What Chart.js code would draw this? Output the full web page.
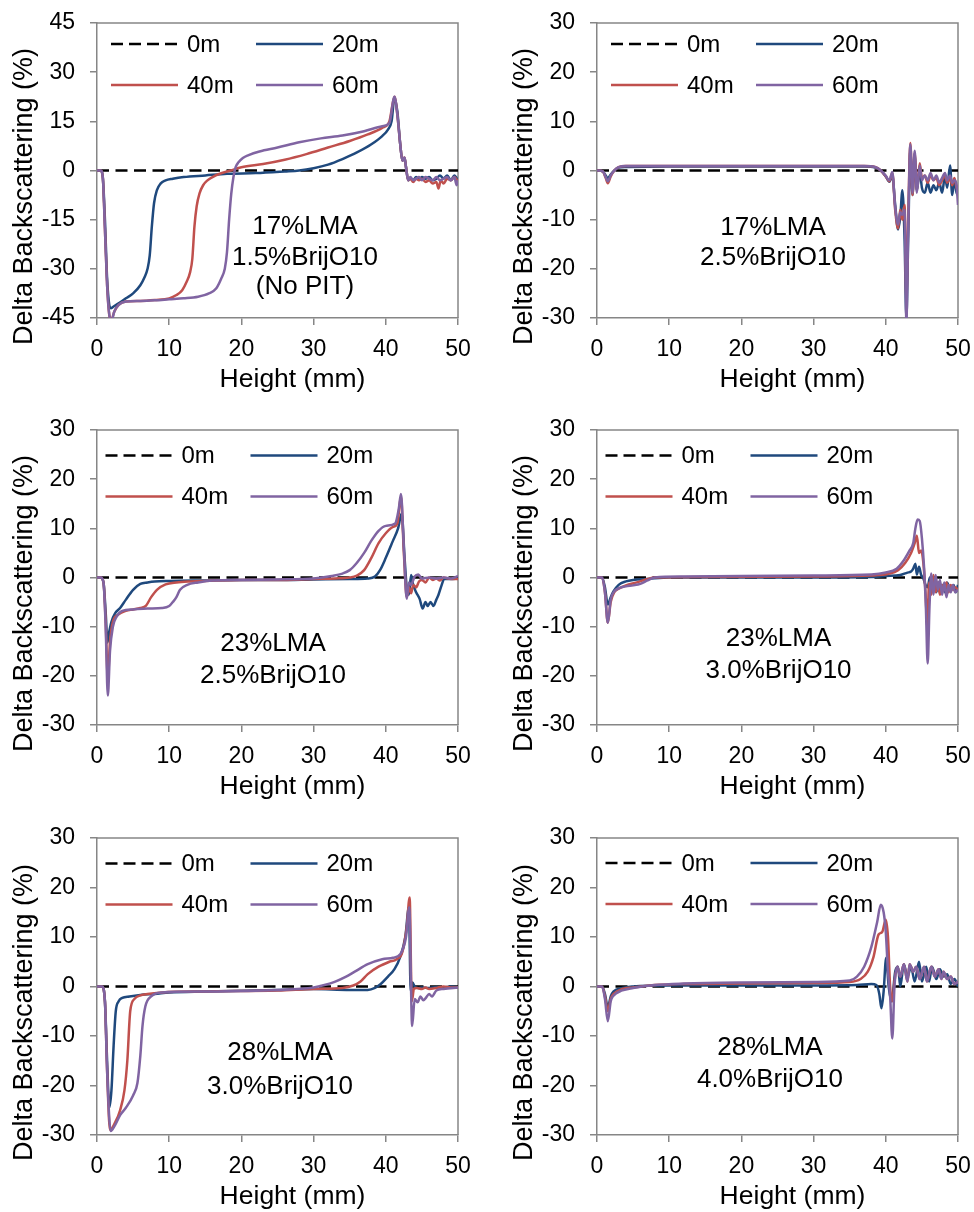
<!DOCTYPE html>
<html>
<head>
<meta charset="utf-8">
<script src="https://cdn.jsdelivr.net/npm/chart.js@4.4.1/dist/chart.umd.min.js"></script>
<style>
html, body { margin: 0; padding: 0; background: #fff; }
#wrap { position: relative; width: 974px; height: 1212px; }
canvas { position: absolute; }
</style>
</head>
<body>
<div id="wrap">
<canvas id="pa" width="487" height="397" style="left:0;top:0"></canvas>
<canvas id="pb" width="487" height="397" style="left:487px;top:0"></canvas>
<canvas id="pc" width="487" height="397" style="left:0;top:407px"></canvas>
<canvas id="pd" width="487" height="397" style="left:487px;top:407px"></canvas>
<canvas id="pe" width="487" height="397" style="left:0;top:815px"></canvas>
<canvas id="pf" width="487" height="397" style="left:487px;top:815px"></canvas>
</div>
<script>
// series names / colours
const seriesNames = ["0m", "20m", "40m", "60m"];
const seriesColors = ["#000000", "#1f497d", "#c0504d", "#8064a2"];
const baseX = [0, 50];
const baseY = [0, 0];

// 17%LMA 1.5%BrijO10
const a20x = [0, 0.5, 0.8, 1.1, 1.4, 1.7, 1.9, 2.3, 3, 4, 5, 6, 6.6, 7, 7.3, 7.6, 7.9, 8.3, 8.8, 9.5, 10.5, 12, 15, 18, 22, 26, 28, 30, 32, 34, 36, 38, 39.5, 40.3, 40.8, 41.2, 41.6, 42, 42.3, 42.6, 42.8, 43.1, 43.4, 43.8, 44.2, 44.6, 45, 45.5, 46, 46.5, 47, 47.5, 48, 48.5, 49, 49.5, 50];
const a20y = [0, 0, -2, -15, -33, -41, -42, -41.5, -40.5, -39, -37.5, -35, -32.5, -30, -26, -17, -10, -6, -4, -3, -2.5, -2, -1.5, -1, -0.8, -0.3, 0, 0.7, 1.8, 3.5, 5.5, 8, 10.5, 12.5, 15, 22, 18, 8, 3, 3.8, 1, -3, -2.5, -3, -2, -2.8, -2, -2.5, -2, -3, -2.5, -1.5, -2.5, -1.5, -3, -1.5, -3];
const a40x = [0, 0.5, 0.8, 1.1, 1.4, 1.7, 2, 2.4, 3, 4, 6, 8, 10, 11, 11.8, 12.4, 12.9, 13.2, 13.5, 13.8, 14.2, 14.7, 15.3, 16, 17, 18.5, 20, 23, 26, 29, 32, 35, 37.5, 39.5, 40.5, 41.2, 41.6, 42, 42.3, 42.6, 42.8, 43.1, 43.4, 43.8, 44.2, 44.6, 45, 45.5, 46, 46.5, 47, 47.3, 47.6, 48, 48.5, 49, 49.5, 50];
const a40y = [0, 0, -2, -18, -35, -44, -45.5, -43, -41, -40, -39.8, -39.5, -39, -38, -36.5, -34, -31, -27, -17, -11, -7, -4.5, -3, -2, -1, 0, 1, 2, 3.3, 5, 7, 9, 11, 13, 15, 22.5, 17, 8, 3, 4, 1, -3, -2.5, -3.5, -2.5, -3, -2.5, -3.5, -3, -4, -3.5, -5.5, -3, -4, -2.5, -3, -2, -3.5];
const a60x = [0, 0.5, 0.8, 1.1, 1.4, 1.7, 2, 2.4, 3, 4, 6, 8, 10, 12, 14, 15.5, 16.5, 17.2, 17.7, 18, 18.3, 18.6, 18.9, 19.2, 19.6, 20.2, 21, 22.5, 25, 28, 31, 34, 37, 39.5, 40.5, 41.2, 41.6, 42, 42.3, 42.6, 42.8, 43.1, 43.4, 43.8, 44.2, 44.6, 45, 45.5, 46, 46.5, 47, 47.5, 48, 48.5, 49, 49.5, 49.8, 50];
const a60y = [0, 0, -2, -18, -35, -44, -45.8, -43, -41, -40, -39.8, -39.6, -39.3, -39, -38.5, -37.5, -36, -33, -30, -25, -15, -7, -2, 1, 2.5, 3.8, 4.7, 5.8, 7, 8.6, 9.8, 10.7, 12, 13.5, 14.5, 22.5, 17, 8, 3, 4, 1, -3, -2, -3, -2.5, -2, -3, -2, -2.5, -3, -2, -3, -2.5, -2, -3, -2, -4.5, -3];

// 17%LMA 2.5%BrijO10
const b20x = [0, 0.8, 1.2, 1.5, 1.9, 2.4, 3, 4, 10, 20, 30, 37, 38.5, 39.3, 40, 40.5, 40.9, 41.3, 41.7, 42, 42.3, 42.6, 42.85, 43.1, 43.4, 43.7, 44, 44.3, 44.7, 45, 45.4, 45.8, 46.2, 46.6, 47, 47.4, 47.8, 48.2, 48.5, 48.9, 49.2, 49.5, 49.8, 50];
const b20y = [0, -0.2, -1, -1.6, -0.8, 0, 0.6, 0.7, 0.8, 0.8, 0.8, 0.8, 0.6, 0, -1.2, -2.3, -1, -7, -12, -9.5, -4, -14, -30, -14, 4, -5, 3, -4, 0, -3.5, -4.5, -2.5, -4.5, -3, -4, -2.5, -4.5, -1, -3.5, 1, -5, -2, -4.5, -5];
const b40x = b20x;
const b40y = [0, -0.2, -1.5, -2.6, -1.2, 0, 0.7, 0.9, 0.9, 0.9, 0.9, 0.9, 0.7, 0, -1.2, -2.2, -0.5, -8, -11.8, -8, -10, -7, -26, -10, 5.6, -5, 3.5, -4, 1.5, -1.5, -1, -2.5, -1, -2, -1.5, -3, -2, -1, -2.5, -1.5, -3, -1.5, -3.5, -4];
const b60x = b20x;
const b60y = [0, -0.2, -1.3, -2.2, -1, 0, 0.7, 0.9, 0.9, 0.9, 0.9, 0.9, 0.7, 0, -1.1, -2, -0.3, -7.5, -11, -8.5, -9, -8, -30.5, -12, 5.3, -4.5, 4, -4.5, 1, -2, -1, -2, -0.5, -2, -1, -2.5, -1.5, -0.5, -2, -1, -2.5, -2, -3, -7];

// 23%LMA 2.5%BrijO10
const c20x = [0, 0.5, 0.9, 1.2, 1.45, 1.7, 2, 2.5, 3.2, 4, 5, 6, 7, 8, 10, 15, 20, 25, 30, 35, 37.5, 38.5, 39.2, 40, 41, 41.7, 42.2, 42.6, 42.9, 43.2, 43.5, 43.8, 44.2, 44.7, 45.1, 45.5, 45.8, 46.2, 46.6, 47, 47.3, 47.7, 48.1, 49, 50];
const c20y = [0, 0, -1, -7, -13.2, -11, -9, -7.3, -6.2, -4.5, -2.5, -1.3, -1, -0.8, -0.7, -0.6, -0.5, -0.5, -0.4, -0.3, -0.2, 0.2, 1.5, 4, 7.5, 10, 13, 4, -2, -3.5, 0.5, -1.5, -3, -4.4, -6.3, -5, -5.8, -5, -5.8, -4.5, -3.5, -1.7, -0.3, -0.3, -0.2];
const c40x = [0, 0.5, 0.9, 1.2, 1.5, 1.8, 2.2, 3, 4, 5, 6, 6.8, 7.5, 8.3, 9.5, 11, 13, 15, 20, 25, 30, 33, 35, 36, 37, 38, 39, 40, 41, 41.6, 42.1, 42.5, 42.9, 43.2, 43.5, 43.8, 44.2, 44.6, 45, 45.5, 46, 46.5, 47, 47.5, 48, 49, 50];
const c40y = [0, 0, -1, -9, -20.5, -13, -9, -7.5, -6.8, -6.5, -6.2, -5.7, -4, -2.5, -1.4, -1, -0.8, -0.7, -0.5, -0.5, -0.3, -0.2, 0, 0.4, 1.5, 4, 7, 9, 10.3, 11, 16.5, 5, -4, -2, -3.2, -1.5, -2, -0.8, -0.5, -1, 0, -0.5, -0.2, -0.6, 0, -0.3, -0.3];
const c60x = [0, 0.5, 0.9, 1.2, 1.5, 1.8, 2.2, 2.7, 3.5, 5, 7, 9, 10, 10.5, 11, 11.5, 12.5, 14, 16, 20, 25, 30, 32.5, 34, 35, 36, 37, 38, 39, 40, 41.3, 41.8, 42.1, 42.5, 42.9, 43.2, 43.5, 44, 44.5, 45, 46, 47, 48, 49, 50];
const c60y = [0, 0, -1, -10, -24, -15, -10, -8, -6.8, -6.5, -6.3, -6.2, -5.8, -5, -4, -2.5, -1.5, -1, -0.6, -0.5, -0.4, -0.2, 0.3, 0.8, 1.5, 3, 5, 7.5, 9.5, 10.5, 11, 14, 17, 6, -4.3, -1, -1.5, 0.2, 0.6, -0.2, 0, -0.2, 0, -0.2, 0.3];

// 23%LMA 3.0%BrijO10
const d20x = [0, 0.7, 1.1, 1.5, 1.9, 2.3, 3, 4, 5, 7, 10, 20, 30, 38, 40, 42, 43, 43.5, 43.8, 44.1, 44.3, 44.6, 44.9, 45.2, 45.5, 45.8, 46.1, 46.4, 46.7, 47, 47.3, 47.6, 47.9, 48.2, 48.5, 48.8, 49.1, 49.4, 49.7, 50];
const d20y = [0, 0, -2, -5.5, -4, -2.8, -1.5, -0.8, -0.5, -0.3, 0, 0, 0, 0.1, 0.3, 0.5, 1, 1.2, 1.8, 2.8, 0.6, 2.2, 0.5, -0.2, -1.5, -2, 0, -2.5, -1, -3, -1, -2.5, -1.5, -3, -1, -2, -2.5, -1.5, -3, -1.5];
const d40x = [0, 0.7, 1.1, 1.5, 1.9, 2.4, 3, 4, 5.5, 7, 8, 15, 30, 38, 40.5, 41.7, 42.7, 43.5, 44, 44.3, 44.6, 44.9, 45.2, 45.5, 45.75, 46, 46.3, 46.6, 46.9, 47.2, 47.5, 47.8, 48.1, 48.4, 48.7, 49, 49.3, 49.6, 50];
const d40y = [0, 0, -3, -9.2, -5, -3, -2.3, -1.6, -1, -0.3, 0, 0.1, 0.2, 0.4, 0.8, 1.5, 3, 5, 7, 8.5, 5, 5.5, 3, -3, -10, -1, -3.5, 0.5, -3, -1, -3.5, -1.5, -2.5, -1, -3, -1.5, -2.5, -2, -2.5];
const d60x = [0, 0.7, 1.1, 1.5, 1.9, 2.4, 3, 4, 5, 6, 7, 8, 12, 20, 30, 38, 40, 41.5, 42.5, 43.3, 43.8, 44.1, 44.4, 44.7, 45, 45.3, 45.55, 45.8, 46.05, 46.3, 46.6, 46.9, 47.2, 47.5, 47.8, 48.1, 48.4, 48.7, 49, 49.3, 49.6, 50];
const d60y = [0, 0, -3, -9.2, -4.5, -2.8, -2.2, -1.8, -1.6, -1.3, -0.6, 0, 0.2, 0.3, 0.4, 0.6, 1, 1.8, 3.5, 5.5, 7, 10, 11.8, 11.5, 8, 2, -6, -17.5, -6, 0.8, -3.5, 0.5, -2.5, -0.5, -3.5, -1, -4, -1.5, -3, -1.5, -3, -2.5];

// 28%LMA 3.0%BrijO10
const e20x = [0, 0.7, 1.1, 1.4, 1.7, 2, 2.3, 2.6, 3, 3.5, 4.5, 6, 8, 10, 15, 25, 30, 35, 37.5, 38.5, 39.3, 40.3, 41.2, 42, 42.7, 43.2, 43.45, 43.7, 44, 44.5, 45, 46, 47, 48, 49, 50];
const e20y = [0, 0, -3, -15, -24.5, -21, -12, -5, -3, -2.3, -2, -1.7, -1.5, -1.2, -1, -0.7, -0.5, -0.7, -0.7, -0.3, 0.5, 2, 3.5, 6, 10, 16, -1, 0.8, 0, -0.3, -0.2, -0.3, -0.1, -0.2, 0, -0.2];
const e40x = [0, 0.7, 1.1, 1.4, 1.8, 2.5, 3.2, 3.8, 4.2, 4.6, 5.2, 6, 7, 9, 15, 25, 30, 34, 35.5, 36.5, 37.5, 39, 40.5, 41.5, 42.3, 42.9, 43.3, 43.6, 43.9, 44.3, 45, 45.5, 46, 47, 48, 49, 50];
const e40y = [0, 0, -3, -17, -29, -27.5, -25, -21, -15, -5, -2.5, -1.8, -1.5, -1.2, -1, -0.8, -0.5, -0.3, 0.2, 1, 2.5, 4, 5, 5.5, 7, 12, 18, -3, -0.5, -0.3, -0.5, -0.2, -0.5, -0.3, 0, -0.2, -0.2];
const e60x = [0, 0.7, 1.1, 1.4, 1.9, 2.5, 3.2, 4, 5, 5.6, 6, 6.3, 6.7, 7.5, 9, 15, 25, 30, 31.5, 33, 34.5, 35.7, 37.5, 39.5, 41, 42, 42.8, 43.25, 43.65, 44, 44.4, 44.8, 45.2, 45.6, 46, 46.4, 47, 48, 50];
const e60y = [0, 0, -3, -17, -29.2, -28, -26, -24.5, -22, -19.5, -14, -8, -4, -2, -1.2, -1, -0.7, -0.2, 0.3, 1, 2, 3, 4.5, 5.5, 5.8, 6.5, 10, 16, -8, -2.5, -3.2, -2, -2.8, -2.2, -1.5, -2, -0.8, -0.5, -0.2];

// 28%LMA 4.0%BrijO10
const f20x = [0, 0.7, 1.1, 1.5, 1.9, 2.3, 3.5, 5, 10, 30, 36, 38, 38.7, 39.1, 39.4, 39.7, 40.05, 40.4, 40.8, 41.3, 41.7, 42, 42.5, 43, 43.5, 44, 44.6, 45, 45.6, 46, 46.4, 47, 47.5, 48, 48.5, 49, 49.5, 50];
const f20y = [0, 0, -1.5, -4.2, -2, -1, -0.3, 0, 0.2, 0.2, 0.3, 0.5, 0.3, -1.5, -4.4, -1, 5.8, 0, -3, 3, 4, 0, 4.5, 2, 4, 1, 5, 1, 4, 1, 4, 1.5, 3.5, 2, 2.5, 0.5, 1.5, 0];
const f40x = [0, 0.7, 1.1, 1.5, 1.9, 2.3, 3.5, 5, 8, 12, 20, 30, 35, 36.5, 37.5, 38.3, 39, 39.5, 40, 40.3, 40.6, 40.9, 41.2, 41.6, 42, 42.5, 43, 43.3, 43.8, 44.2, 44.7, 45.3, 45.7, 46.3, 46.8, 47.3, 47.7, 48, 48.5, 49, 49.5, 50];
const f40y = [0, 0, -2, -5, -2.5, -1.5, -0.5, -0.2, 0.3, 0.5, 0.6, 0.7, 0.9, 1.5, 3, 6, 10.5, 11, 13.5, 10, 0, -3, 1, 4, 2, 4.5, 1, 4.5, 3, 4, 1.5, 4, 1, 4, 2, 3.5, 1.5, 3, 1.5, 2, 0.5, 1];
const f60x = [0, 0.7, 1.1, 1.5, 1.9, 2.2, 3.5, 5, 8, 12, 20, 30, 35, 36, 37, 38, 38.8, 39.3, 39.7, 40, 40.3, 40.6, 40.9, 41.2, 41.6, 42, 42.5, 43, 43.3, 43.8, 44.2, 44.7, 45.3, 45.7, 46.3, 46.8, 47.3, 47.7, 48, 48.5, 49, 49.5, 50];
const f60y = [0, 0, -2.5, -7, -3, -2, -0.8, -0.3, 0.3, 0.6, 0.8, 0.9, 1.2, 2, 4, 8, 13, 16.5, 15, 11, 3, -2, -10.5, 0, 4, 2, 4.5, 1, 4.5, 3, 4, 1.5, 4, 1, 4, 2, 3.5, 1.5, 3, 1.5, 2, 0.5, 1];

const FONT = '"Liberation Sans", Arial, sans-serif';
const AXIS_GREY = "#868686";

const panels = [
    { id: "pa", min: -45, max: 45, step: 15, s: [[a20x, a20y], [a40x, a40y], [a60x, a60y]],
      note: ["17%LMA", "1.5%BrijO10", "(No PIT)"], nfx: 0.576, nfy: [0.69, 0.797, 0.895],
      padL: 0, padR: 29, xH: 79, legX: 14, legY: [21, 62] },
    { id: "pb", min: -30, max: 30, step: 10, s: [[b20x, b20y], [b40x, b40y], [b60x, b60y]],
      note: ["17%LMA", "2.5%BrijO10"], nfx: 0.4875, nfy: [0.695, 0.797],
      padL: 13, padR: 16, xH: 79, legX: 14, legY: [21, 62] },
    { id: "pc", min: -30, max: 30, step: 10, s: [[c20x, c20y], [c40x, c40y], [c60x, c60y]],
      note: ["23%LMA", "2.5%BrijO10"], nfx: 0.4875, nfy: [0.726, 0.834],
      padL: 0, padR: 29, xH: 79, legX: 8.5, legY: [25.5, 66.5] },
    { id: "pd", min: -30, max: 30, step: 10, s: [[d20x, d20y], [d40x, d40y], [d60x, d60y]],
      note: ["23%LMA", "3.0%BrijO10"], nfx: 0.503, nfy: [0.709, 0.817],
      padL: 13, padR: 16, xH: 79, legX: 8.5, legY: [25.5, 66.5] },
    { id: "pe", min: -30, max: 30, step: 10, s: [[e20x, e20y], [e40x, e40y], [e60x, e60y]],
      note: ["28%LMA", "3.0%BrijO10"], nfx: 0.507, nfy: [0.724, 0.838],
      padL: 0, padR: 29, xH: 77, legX: 8.5, legY: [25.5, 66.5] },
    { id: "pf", min: -30, max: 30, step: 10, s: [[f20x, f20y], [f40x, f40y], [f60x, f60y]],
      note: ["28%LMA", "4.0%BrijO10"], nfx: 0.479, nfy: [0.707, 0.815],
      padL: 13, padR: 16, xH: 77, legX: 8.5, legY: [25, 66] },
];
const panelById = {};
panels.forEach(p => { panelById[p.id] = p; });

function pts(xs, ys) {
    const n = Math.min(xs.length, ys.length);
    const out = [];
    for (let i = 0; i < n; i++) out.push({ x: xs[i], y: ys[i] });
    return out;
}

// frame, axis titles, legend and composition text
const decoPlugin = {
    id: "deco",
    beforeDatasetsDraw(chart) {
        const a = chart.chartArea, ctx = chart.ctx;
        ctx.save();
        ctx.strokeStyle = AXIS_GREY;
        ctx.lineWidth = 1.5;
        ctx.beginPath();
        ctx.moveTo(a.left, a.top);
        ctx.lineTo(a.right, a.top);
        ctx.lineTo(a.right, a.bottom);
        ctx.stroke();
        ctx.restore();
    },
    afterDraw(chart) {
        const p = panelById[chart.canvas.id];
        const a = chart.chartArea, ctx = chart.ctx;
        ctx.save();
        ctx.fillStyle = "#000";
        ctx.textBaseline = "middle";

        // axis titles (Excel puts them slightly off-centre)
        ctx.textAlign = "center";
        ctx.font = "26.5px " + FONT;
        ctx.fillText("Height (mm)", (a.left + a.right) / 2 + 15, a.bottom + 62);
        ctx.save();
        ctx.translate(a.left - 72, (a.top + a.bottom) / 2 + 26);
        ctx.rotate(-Math.PI / 2);
        ctx.font = "27px " + FONT;
        ctx.fillText("Delta Backscattering (%)", 0, 0);
        ctx.restore();

        // legend
        ctx.font = "24px " + FONT;
        ctx.textAlign = "left";
        seriesNames.forEach((name, i) => {
            const x0 = a.left + p.legX + (i % 2) * 145;
            const y = a.top + p.legY[Math.floor(i / 2)];
            ctx.beginPath();
            ctx.setLineDash(i === 0 ? [12, 6] : []);
            ctx.strokeStyle = seriesColors[i];
            ctx.lineWidth = 2.5;
            ctx.moveTo(x0, y);
            ctx.lineTo(x0 + 67, y);
            ctx.stroke();
            ctx.setLineDash([]);
            ctx.fillText(name, x0 + 76, y + 1);
        });

        // composition label
        ctx.font = "26px " + FONT;
        ctx.textAlign = "center";
        p.note.forEach((t, i) => {
            ctx.fillText(t, a.left + p.nfx * (a.right - a.left), a.top + p.nfy[i] * (a.bottom - a.top));
        });
        ctx.restore();
    }
};

function makeChart(p) {
    const lines = [];
    // first dataset is painted last, so 60m ends up on top
    [[3, p.s[2]], [2, p.s[1]], [1, p.s[0]]].forEach(([k, s]) => {
        lines.push({
            label: seriesNames[k],
            data: pts(s[0], s[1]),
            borderColor: seriesColors[k],
            borderWidth: 2.5,
            pointRadius: 0,
            cubicInterpolationMode: "monotone",
        });
    });
    lines.push({
        label: seriesNames[0],
        data: pts(baseX, baseY),
        borderColor: seriesColors[0],
        borderWidth: 2.5,
        borderDash: [12, 6.5],
        pointRadius: 0,
    });

    new Chart(document.getElementById(p.id), {
        type: "line",
        data: { datasets: lines },
        options: {
            responsive: false,
            animation: false,
            devicePixelRatio: 1,
            layout: { padding: { left: p.padL, right: p.padR, top: 23, bottom: 0 } },
            plugins: { legend: { display: false }, tooltip: { enabled: false } },
            scales: {
                x: {
                    type: "linear", min: 0, max: 50,
                    afterFit: s => { s.height = p.xH; s.paddingLeft = 0; s.paddingRight = 0; },
                    ticks: { stepSize: 10, color: "#000", font: { family: FONT, size: 23 }, padding: 11, maxRotation: 0 },
                    grid: { drawOnChartArea: false, drawTicks: true, tickLength: 7, color: AXIS_GREY, lineWidth: 1.5 },
                    border: { color: AXIS_GREY, width: 1.5 },
                    title: { display: false },
                },
                y: {
                    min: p.min, max: p.max,
                    afterFit: s => { s.width = 97; s.paddingTop = 0; s.paddingBottom = 0; },
                    ticks: { stepSize: p.step, color: "#000", font: { family: FONT, size: 23 }, padding: 15 },
                    grid: { drawOnChartArea: false, drawTicks: true, tickLength: 7, color: AXIS_GREY, lineWidth: 1.5 },
                    border: { color: AXIS_GREY, width: 1.5 },
                    title: { display: false },
                },
            },
        },
        plugins: [decoPlugin],
    });
}

panels.forEach(makeChart);
</script>
</body>
</html>
